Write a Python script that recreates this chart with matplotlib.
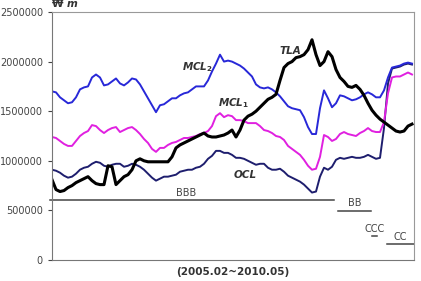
import matplotlib
matplotlib.use('Agg')
import matplotlib.pyplot as plt
import numpy as np

# values in won; sampled evenly over 2005.02 ~ 2010.05
PX = 10080.6  # won per reference pixel, used only to convert the read-off numbers below

mcl2_px = [91, 92, 97, 100, 103, 102, 97, 89, 87, 86, 77, 74, 77, 85, 84, 81, 78, 83, 85, 82,
           78, 79, 84, 91, 98, 105, 112, 105, 104, 101, 98, 98, 95, 93, 92, 89, 86, 86, 86, 80,
           72, 64, 55, 62, 61, 62, 64, 66, 69, 73, 76, 84, 87, 88, 87, 89, 92, 96, 101, 106,
           108, 109, 110, 117, 127, 134, 134, 108, 90, 98, 107, 103, 95, 96, 98, 100, 99, 97, 94, 92,
           94, 97, 97, 90, 77, 68, 67, 66, 64, 63, 64]
mcl1_px = [137, 138, 141, 144, 146, 146, 141, 136, 133, 131, 125, 126, 130, 133, 130, 128, 127, 132, 130, 128,
           127, 130, 134, 139, 143, 149, 152, 148, 148, 145, 143, 142, 140, 138, 138, 137, 136, 134, 133, 131,
           126, 116, 113, 117, 115, 116, 120, 120, 121, 123, 123, 123, 126, 130, 131, 133, 136, 137, 140, 146,
           149, 152, 155, 160, 166, 170, 169, 157, 135, 137, 141, 139, 134, 132, 134, 135, 136, 133, 131, 128,
           131, 132, 132, 122, 93, 77, 76, 76, 74, 73, 74]
ocl_px = [170, 171, 173, 176, 178, 177, 174, 170, 168, 167, 164, 162, 163, 166, 167, 165, 164, 164, 167, 166,
          164, 165, 167, 170, 174, 178, 181, 179, 177, 177, 176, 175, 172, 171, 170, 170, 168, 167, 164, 159,
          156, 151, 151, 153, 153, 155, 158, 158, 159, 161, 163, 165, 164, 164, 168, 170, 170, 169, 172, 176,
          178, 180, 182, 185, 189, 193, 192, 177, 168, 170, 167, 160, 158, 159, 158, 157, 158, 158, 157, 155,
          157, 159, 158, 128, 83, 69, 68, 67, 65, 64, 65]
tla_px = [180, 190, 192, 191, 188, 186, 183, 181, 179, 177, 181, 184, 185, 185, 166, 167, 185, 181, 177, 175,
          170, 161, 159, 161, 162, 162, 162, 162, 162, 162, 157, 148, 145, 143, 141, 139, 137, 135, 133, 136,
          137, 137, 136, 135, 133, 130, 137, 130, 120, 116, 114, 111, 107, 103, 99, 97, 94, 80, 68, 64,
          62, 58, 57, 55, 50, 40, 55, 66, 62, 52, 57, 70, 77, 81, 86, 87, 85, 89, 95, 103,
          110, 115, 119, 122, 125, 128, 131, 132, 131, 126, 124]

to_won = lambda p: [round((260 - v) * PX, -4) for v in p]
mcl2 = to_won(mcl2_px)
mcl1 = to_won(mcl1_px)
ocl = to_won(ocl_px)
tla = to_won(tla_px)

# rating thresholds: name, level, start, end (period index)
ratings = ['BBB', 'BB', 'CCC', 'CC']
levels = [600000, 495000, 242000, 160000]
r_start = [-0.5, 71.5, 80.0, 83.75]
r_end = [70.5, 79.75, 81.25, 90.5]

x = np.arange(len(tla))

fig = plt.figure(figsize=(4.21, 2.81), dpi=100)
ax = fig.add_axes([52/421, 1 - 260/281, 362/421, 248/281])

ax.plot(x, ocl, color='#1e1e6e', lw=1.4)
ax.plot(x, mcl1, color='#e020e0', lw=1.4)
ax.plot(x, mcl2, color='#2828d8', lw=1.4)
ax.plot(x, tla, color='black', lw=2.2)

for name, lv, s, e in zip(ratings, levels, r_start, r_end):
    ax.plot([s, e], [lv, lv], color='#444444', lw=1.1, clip_on=False)
    ax.text((s + e) / 2 if name != 'BBB' else 33.5, lv + 25000, name,
            ha='center', va='bottom', fontsize=7, color='#444444')

lab = dict(fontsize=7.5, fontweight='bold', fontstyle='italic', color='#333333')
ax.text(32.5, 1940000, r'MCL$_\mathbf{2}$', ha='left', va='center', **lab)
ax.text(57, 2110000, 'TLA', ha='left', va='center', **lab)
ax.text(41.5, 1580000, r'MCL$_\mathbf{1}$', ha='left', va='center', **lab)
ax.text(45.3, 860000, 'OCL', ha='left', va='center', **lab)

ax.set_xlim(0, 90.5)
ax.set_ylim(0, 2500000)
ax.set_yticks([0, 500000, 1000000, 1500000, 2000000, 2500000])
ax.set_yticklabels(['0', '500000', '1000000', '1500000', '2000000', '2500000'])
ax.set_xticks([])
ax.tick_params(axis='y', labelsize=7, colors='#444444', length=3, width=0.8)
for sp in ['left', 'bottom']:
    ax.spines[sp].set_color('#777777')
for sp in ['top', 'right']:
    ax.spines[sp].set_color('#999999')

fig.text(52/421, 1 - 4/281, '\u20a9', fontsize=7.5, fontweight='bold', color='#333333',
         ha='left', va='center')
fig.text(67/421, 1 - 4/281, 'm', fontsize=7.5, fontweight='bold', fontstyle='italic',
         color='#333333', ha='left', va='center')
ax.set_xlabel('(2005.02~2010.05)', fontsize=7.5, fontweight='bold', color='#333333', labelpad=5)

fig.savefig('out.png', dpi=100)
